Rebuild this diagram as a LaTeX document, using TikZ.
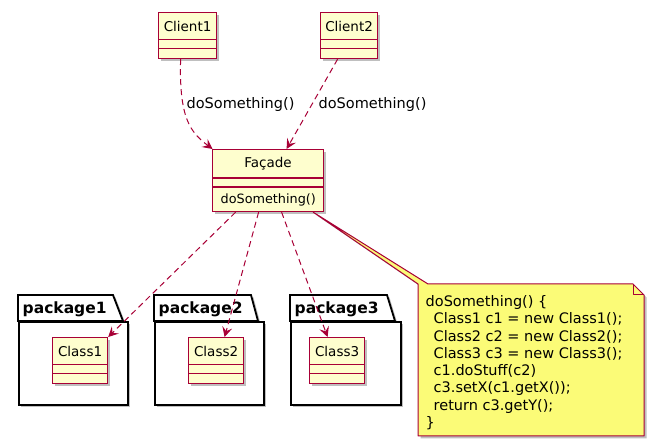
\documentclass[tikz,border=0pt]{standalone}
\usepackage{fontspec}
\setmainfont{DejaVu Sans}
\usetikzlibrary{arrows.meta,shadows}
\definecolor{umlred}{HTML}{A80036}
\definecolor{umlfill}{HTML}{FEFECE}
\definecolor{notefill}{HTML}{FBFB77}
\tikzset{
  shd/.style={drop shadow={shadow xshift=2.5pt, shadow yshift=-2.5pt, opacity=0.25, fill=black}},
  clsbox/.style={draw=umlred, fill=umlfill, line width=1.2pt, inner sep=0pt, anchor=north west, shd},
  clsline/.style={draw=umlred, line width=1.2pt},
  clsname/.style={font=\fontsize{13.5}{16}\selectfont, inner sep=0pt},
  mbr/.style={font=\fontsize{12.8}{15}\selectfont, inner sep=0pt, anchor=west},
  dep/.style={draw=umlred, line width=1pt, dash pattern=on 6pt off 4pt,
    -{Stealth[length=10pt,width=10pt,inset=4pt]}},
  lbl/.style={font=\fontsize{14.5}{17}\selectfont, inner sep=0pt},
  pkg/.style={draw=black, line width=1.8pt, fill=white, shd},
  pkglbl/.style={font=\bfseries\fontsize{15.5}{18}\selectfont, inner sep=0pt, anchor=west},
  notebox/.style={draw=umlred, fill=notefill, line width=1pt, line join=round, shd},
  notetxt/.style={font=\fontsize{14.5}{17.3}\selectfont, inner sep=0pt, anchor=base west},
}
\newcommand{\umlcls}[5]{%
  \node[clsbox, minimum width=#4pt, minimum height=46pt] (#1) at (#2,#3) {};
  \draw[clsline] ([yshift=-27.5pt]#1.north west) -- ([yshift=-27.5pt]#1.north east);
  \draw[clsline] ([yshift=-36.5pt]#1.north west) -- ([yshift=-36.5pt]#1.north east);
  \node[clsname] (#1-t) at ([yshift=-14pt]#1.north) {#5};
}
\newcommand{\umlpkg}[6]{% name, left, tabright, slantx, right, label
  \path[pkg] (#2,321) -- (#2,295) -- (#3,295) -- (#4,321) -- cycle;
  \node[pkg, inner sep=0pt, anchor=north west, minimum width=#5pt-#2pt, minimum height=83pt] (#1) at (#2,321) {};
  \node[pkglbl] (#1-l) at (#2+4.5,309.5) {#6};
}
\begin{document}
\begin{tikzpicture}[x=1pt,y=-1pt]
\useasboundingbox (0,0) rectangle (657,446);
% packages
\umlpkg{p1}{18}{113}{123}{127}{package1}
\umlpkg{p2}{154}{251}{258}{263}{package2}
\umlpkg{p3}{290}{387}{395}{400}{package3}
% classes
\umlcls{cl1}{158}{12}{58}{Client1}
\umlcls{cl2}{320}{12}{57}{Client2}
\umlcls{k1}{52}{337}{55}{Class1}
\umlcls{k2}{188}{337}{55}{Class2}
\umlcls{k3}{309}{337}{55}{Class3}
% facade
\node[clsbox, minimum width=111pt, minimum height=62pt] (fac) at (212,149) {};
\draw[clsline] ([yshift=-29pt]fac.north west) -- ([yshift=-29pt]fac.north east);
\draw[clsline] ([yshift=-38pt]fac.north west) -- ([yshift=-38pt]fac.north east);
\node[clsname] (fac-t) at ([yshift=-14.5pt]fac.north) {Façade};
\node[mbr] (fac-m) at (220.5,199.5) {doSomething()};
% note
\path[notebox] (418,436) -- (418,284) -- ([xshift=-11pt]fac.south east) -- (428,284)
  -- (633,284) -- (644,295) -- (644,436) -- cycle;
\draw[draw=umlred, line width=1pt, line join=round] (633,284) -- (633,295) -- (644,295);
\node[notetxt] (n1) at (425.5,306.5) {doSomething() \{};
\node[notetxt] (n2) at (433.5,323.8) {Class1 c1 = new Class1();};
\node[notetxt] (n3) at (433.5,341.1) {Class2 c2 = new Class2();};
\node[notetxt] (n4) at (433.5,358.4) {Class3 c3 = new Class3();};
\node[notetxt] (n5) at (433.5,375.7) {c1.doStuff(c2)};
\node[notetxt] (n6) at (433.5,393.0) {c3.setX(c1.getX());};
\node[notetxt] (n7) at (433.5,410.3) {return c3.getY();};
\node[notetxt] (n8) at (425.5,427.6) {\}};
% connectors
\draw[dep] ([xshift=-7pt]cl1.south) .. controls (179,118) and (190,132) .. ([xshift=0.5pt]fac.north west);
\draw[dep] ([xshift=-11.5pt]cl2.south) -- ([xshift=18.5pt]fac.north);
\node[lbl] (l1) at (240.5,105) {doSomething()};
\node[lbl] (l2) at (372.5,105) {doSomething()};
\draw[dep] ([xshift=-32.5pt]fac.south) -- (k1.north east);
\draw[dep] ([xshift=-9.5pt]fac.south) -- ([xshift=8.5pt]k2.north);
\draw[dep] ([xshift=13.5pt]fac.south) -- ([xshift=-9.5pt]k3.north);
\end{tikzpicture}
\end{document}
